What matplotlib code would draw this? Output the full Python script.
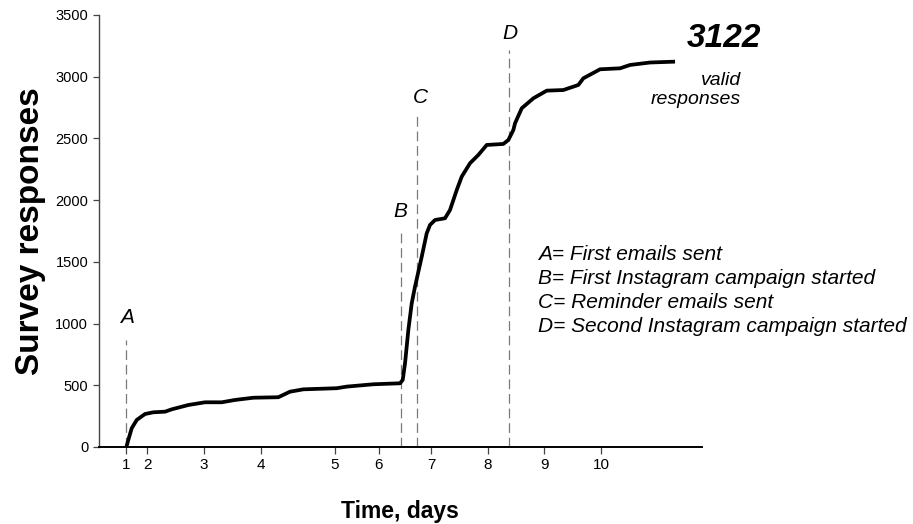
import matplotlib
matplotlib.use('Agg')
import matplotlib.pyplot as plt

plt.rcParams['font.family'] = ['Liberation Sans', 'DejaVu Sans']
plt.rcParams['lines.scale_dashes'] = False

# cumulative survey responses over time (x = days elapsed since first email)
time_days = [0.0, 0.033, 0.093, 0.181, 0.326, 0.472, 0.677, 0.795, 1.086, 1.379,
             1.672, 1.905, 2.226, 2.665, 2.870, 3.104, 3.689, 3.865, 4.332, 4.800,
             4.847, 4.888, 4.946, 5.005, 5.063, 5.181, 5.268, 5.326, 5.414, 5.589,
             5.677, 5.795, 5.882, 6.028, 6.174, 6.321, 6.612, 6.700, 6.788, 6.818,
             6.935, 7.139, 7.374, 7.665, 7.928, 8.016, 8.309, 8.660, 8.835, 9.186,
             9.625]
responses = [0, 57, 152, 219, 267, 281, 286, 305, 340, 362,
             362, 381, 399, 403, 448, 467, 476, 489, 508, 516,
             543, 678, 948, 1164, 1299, 1542, 1731, 1799, 1839, 1853,
             1920, 2082, 2190, 2299, 2366, 2447, 2455, 2487, 2568, 2623,
             2744, 2825, 2887, 2892, 2933, 2987, 3060, 3068, 3095, 3115,
             3122]

# day tick positions on the time axis
day_ticks = [0.0, 0.363, 1.354, 2.356, 3.66, 4.425, 5.344, 6.342, 7.332, 8.333]
day_labels = ['1', '2', '3', '4', '5', '6', '7', '8', '9', '10']

# campaign events
event_names = ['A', 'B', 'C', 'D']
event_times = [0.0, 4.81, 5.095, 6.705]
event_line_top = [867, 1742, 2690, 3217]
event_label_x = [0.005, 4.80, 5.15, 6.73]
event_label_y = [1053, 1904, 2828, 3354]
event_desc = ['A= First emails sent',
              'B= First Instagram campaign started',
              'C= Reminder emails sent',
              'D= Second Instagram campaign started']

fig = plt.figure(figsize=(9.13, 5.24), dpi=100)
ax = fig.add_axes([0.108, 0.147, 0.6606, 0.8244])

for t, top in zip(event_times, event_line_top):
    ax.plot([t, t], [0, top], color='#7a7a7a', lw=0.9, dashes=(7, 3.5), zorder=1)
for name, lx, ly in zip(event_names, event_label_x, event_label_y):
    ax.text(lx, ly, name, fontsize=15, style='italic', ha='center', va='center')

ax.plot(time_days, responses, color='black', lw=2.7, solid_capstyle='butt', zorder=3)

# description block
for i, desc in enumerate(event_desc):
    ax.text(7.22, 1511 - i * 193, desc, fontsize=15, style='italic',
            ha='left', va='baseline')

ax.text(11.13, 3241, '3122', fontsize=24, fontweight='bold', style='italic',
        ha='right', va='baseline')
ax.text(10.78, 2933, 'valid', fontsize=14, style='italic', ha='right', va='baseline')
ax.text(10.78, 2779, 'responses', fontsize=14, style='italic', ha='right', va='baseline')

ax.set_xlim(-0.488, 10.093)
ax.set_ylim(0, 3500)
ax.set_yticks(range(0, 3501, 500))
ax.set_xticks(day_ticks)
ax.set_xticklabels(day_labels)

for s in ['top', 'right']:
    ax.spines[s].set_visible(False)
ax.spines['left'].set_color('#444444')
ax.spines['left'].set_linewidth(1.0)
ax.spines['bottom'].set_color('black')
ax.spines['bottom'].set_linewidth(1.4)

ax.tick_params(axis='y', length=4.5, width=0.9, color='#444444', labelsize=10.5, pad=3)
ax.tick_params(axis='x', length=5, width=0.9, color='#444444', labelsize=11, pad=3)

ax.set_xlabel('Time, days', fontsize=16.5, fontweight='bold', labelpad=20)
ax.set_ylabel('Survey responses', fontsize=24, fontweight='bold', labelpad=7)

fig.savefig('out.png', dpi=100)
